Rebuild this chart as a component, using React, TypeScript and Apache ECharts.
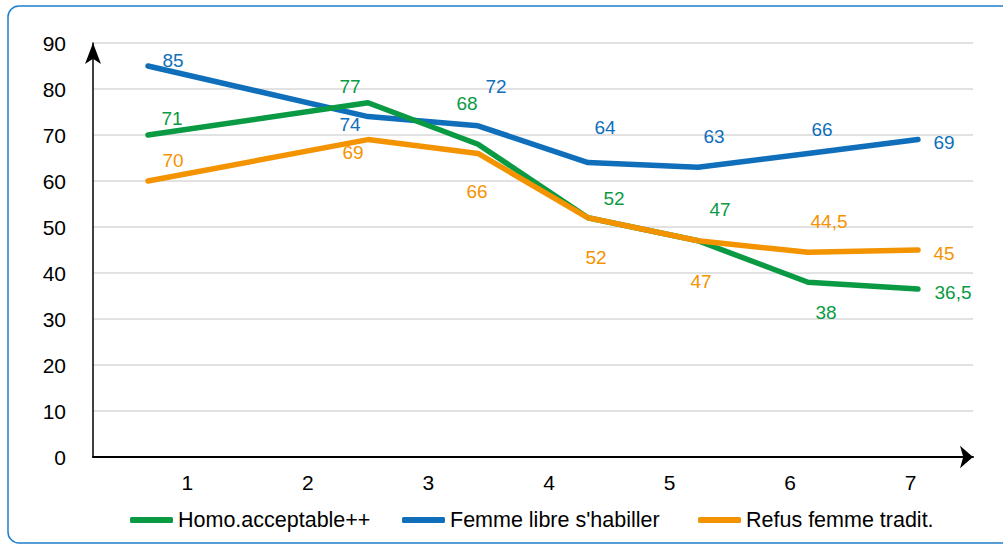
import React, { useEffect, useRef } from "react";
import * as echarts from "echarts";

const categories = ["1", "2", "3", "4", "5", "6", "7"];
const seriesNames = ["Homo.acceptable++", "Femme libre s'habiller", "Refus femme tradit."];
const homoValues = [70, 77, 68, 52, 47, 38, 36.5];
const femmeValues = [85, 74, 72, 64, 63, 66, 69];
const refusValues = [60, 69, 66, 52, 47, 44.5, 45];
const homoLabels = ["71", "77", "68", "52", "47", "38", "36,5"];
const femmeLabels = ["85", "74", "72", "64", "63", "66", "69"];
const refusLabels = ["70", "69", "66", "52", "47", "44,5", "45"];
const yTicks = { min: 0, max: 90, interval: 10 };

// layout: the 7 observations sit on an 8-slot drawing axis (slot 1 empty)
const slotCount = 8;
const pointSlots = [0, 2, 3, 4, 5, 6, 7];
const homoOffsets = [[24, -17], [-18, -16], [-11, -41], [26, -19], [22, -31], [18, 30], [35, 3]];
const femmeOffsets = [[25, -6], [-18, 8], [18, -39], [17, -35], [16, -31], [14, -24], [26, 3]];
const refusOffsets = [[25, -21], [-15, 13], [-1, 38], [8, 40], [3, 41], [21, -31], [26, 3]];
const legendLefts = [130, 402, 698];

const FONT = "'Liberation Sans', Arial, Helvetica, sans-serif";
const COLORS = { homo: "#0a9a44", femme: "#0f6fbb", refus: "#f49300" };

function buildData(values: number[], labels: string[], offsets: number[][]) {
  const arr: any[] = new Array(slotCount).fill(null);
  values.forEach((v, i) => {
    arr[pointSlots[i]] = {
      value: v,
      label: { offset: offsets[i], formatter: labels[i] },
    };
  });
  return arr;
}

function lineSeries(name: string, color: string, values: number[], labels: string[], offsets: number[][]) {
  return {
    name,
    type: "line",
    xAxisIndex: 0,
    yAxisIndex: 0,
    connectNulls: true,
    data: buildData(values, labels, offsets),
    symbol: "circle",
    symbolSize: 1,
    itemStyle: { color },
    lineStyle: { color, width: 5.5, cap: "round", join: "round" },
    label: {
      show: true,
      position: "inside",
      color,
      fontFamily: FONT,
      fontSize: 19,
      align: "center",
      verticalAlign: "middle",
    },
    emphasis: { disabled: true },
  };
}

export default function App() {
  const ref = useRef<HTMLDivElement>(null);
  useEffect(() => {
    document.body.style.margin = "0";
    if (!ref.current) return;
    const chart = echarts.init(ref.current, null, { renderer: "svg" });
    chart.setOption({
      animation: false,
      backgroundColor: "#ffffff",
      graphic: [
        {
          type: "rect",
          shape: { x: 8, y: 6, width: 1010, height: 537, r: 11 },
          style: { fill: "none", stroke: "#1f7fcc", lineWidth: 1.5 },
          silent: true,
          z: -1,
        },
      ],
      grid: [
        { left: 93, right: 30, top: 43, bottom: 88 },
        { left: 127, right: 32, top: 43, bottom: 88 },
      ],
      xAxis: [
        {
          type: "category",
          gridIndex: 0,
          data: new Array(slotCount).fill(""),
          boundaryGap: true,
          axisLine: {
            show: true,
            lineStyle: { color: "#000", width: 2 },
            symbol: ["none", "arrow"],
            symbolSize: [17, 13],
          },
          axisTick: { show: false },
          axisLabel: { show: false },
          splitLine: { show: false },
        },
        {
          type: "category",
          gridIndex: 1,
          data: categories,
          boundaryGap: true,
          axisLine: { show: false },
          axisTick: { show: false },
          axisLabel: { color: "#000", fontFamily: FONT, fontSize: 21, margin: 15 },
          splitLine: { show: false },
        },
      ],
      yAxis: [
        {
          type: "value",
          gridIndex: 0,
          min: yTicks.min,
          max: yTicks.max,
          interval: yTicks.interval,
          axisLine: {
            show: true,
            onZero: false,
            lineStyle: { color: "#000", width: 1.5 },
            symbol: ["none", "arrow"],
            symbolSize: [12, 21],
          },
          axisTick: { show: false },
          axisLabel: { color: "#000", fontFamily: FONT, fontSize: 21, margin: 27 },
          splitLine: { show: true, lineStyle: { color: "#d9d9d9", width: 1.5 } },
        },
        {
          type: "value",
          gridIndex: 1,
          min: yTicks.min,
          max: yTicks.max,
          show: false,
        },
      ],
      legend: seriesNames.map((n, i) => ({
        data: [n],
        left: legendLefts[i],
        top: 509,
        padding: 0,
        icon: "roundRect",
        itemWidth: 43,
        itemHeight: 6,
        itemGap: 0,
        textStyle: { color: "#000", fontFamily: FONT, fontSize: 21.5 },
      })),
      series: [
        lineSeries(seriesNames[1], COLORS.femme, femmeValues, femmeLabels, femmeOffsets),
        lineSeries(seriesNames[0], COLORS.homo, homoValues, homoLabels, homoOffsets),
        lineSeries(seriesNames[2], COLORS.refus, refusValues, refusLabels, refusOffsets),
      ],
    });
    return () => chart.dispose();
  }, []);
  return (
    <div
      ref={ref}
      style={{ position: "absolute", left: 0, top: 0, width: 1003, height: 545 }}
    />
  );
}
